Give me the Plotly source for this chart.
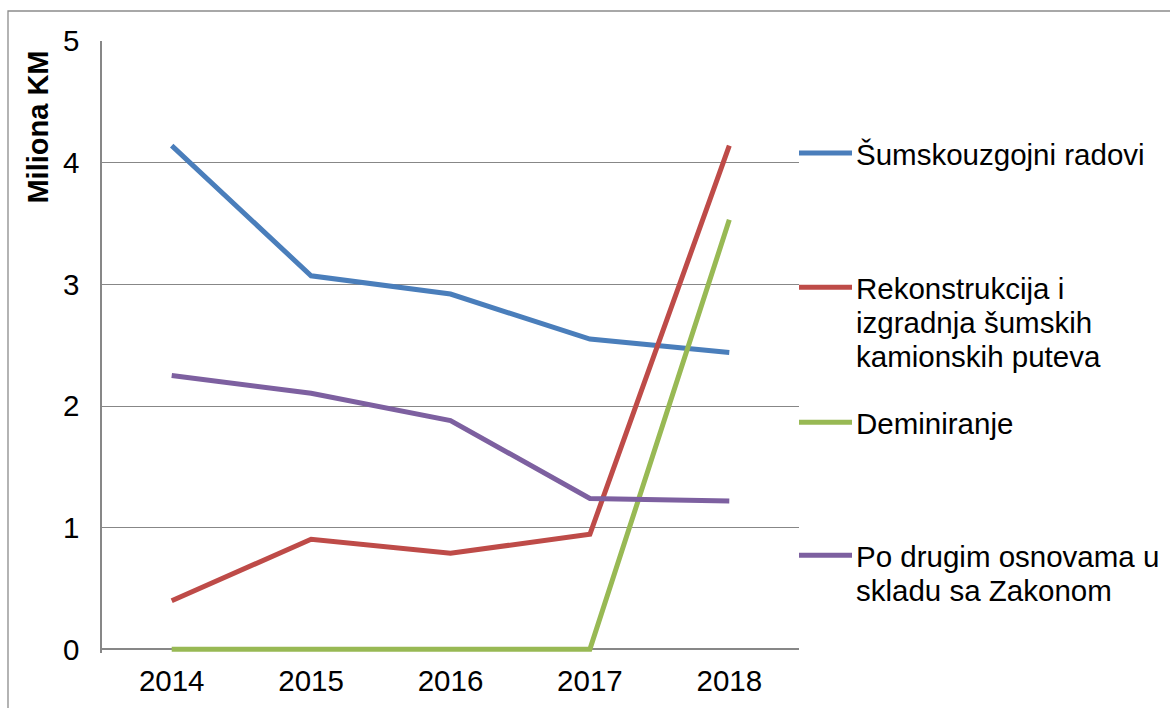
import plotly.graph_objects as go

years = ["2014", "2015", "2016", "2017", "2018"]
sumsko = [4.14, 3.07, 2.92, 2.55, 2.44]
rekon = [0.40, 0.905, 0.79, 0.946, 4.14]
demin = [0.0, 0.0, 0.0, 0.0, 3.53]
ostalo = [2.25, 2.105, 1.88, 1.24, 1.22]

names = ["Šumskouzgojni radovi",
         "Rekonstrukcija i<br>izgradnja šumskih<br>kamionskih puteva",
         "Deminiranje",
         "Po drugim osnovama u<br>skladu sa Zakonom"]
colors = ["#4A7EBB", "#BE4B48", "#98B954", "#7D60A0"]
series = [sumsko, rekon, demin, ostalo]

W, H = 1170, 708
YMIN = -0.03
L, R, T, B0 = 102, 799, 41, 649       # B0: pixel row of value 0
unit = (B0 - T) / 5.0
B = B0 - YMIN * unit                  # bottom of plot area
pw, ph = R - L, B - T

def px(x):
    return (x - L) / pw

def py(y):
    return (B - y) / ph

FONT = "Liberation Sans, Arial, sans-serif"
FS = 29.5

fig = go.Figure()
for vals, nm, c in zip(series, names, colors):
    fig.add_trace(go.Scatter(x=years, y=vals, mode="lines", name=nm.replace("<br>", " "),
                             line=dict(color=c, width=5), showlegend=False, hoverinfo="skip"))

shapes = []
annotations = []
# outer frame
shapes.append(dict(type="rect", xref="paper", yref="paper",
                   x0=px(8), y0=py(760), x1=px(1250), y1=py(11),
                   line=dict(color="#8C8C8C", width=1.3), fillcolor="rgba(0,0,0,0)", layer="below"))

# manual legend
leg_y = [153, 287, 422, 555]
line_gap = 34
for nm, c, ly in zip(names, colors, leg_y):
    shapes.append(dict(type="line", xref="paper", yref="paper",
                       x0=px(799), x1=px(852), y0=py(ly), y1=py(ly),
                       line=dict(color=c, width=5)))
    for i, part in enumerate(nm.split("<br>")):
        annotations.append(dict(text=part, xref="paper", yref="paper",
                                x=px(854), y=py(ly + 1 + i * line_gap),
                                xanchor="left", yanchor="middle", showarrow=False,
                                font=dict(family=FONT, size=FS, color="#000000")))

# y-axis title
annotations.append(dict(text="<b>Miliona KM</b>", xref="paper", yref="paper",
                        x=px(38), y=py(127.5), textangle=-90,
                        xanchor="center", yanchor="middle", showarrow=False,
                        font=dict(family=FONT, size=29, color="#000000")))

fig.update_layout(
    width=W, height=H,
    margin=dict(l=L, r=W - R, t=T, b=H - B, autoexpand=False),
    paper_bgcolor="white", plot_bgcolor="white",
    font=dict(family=FONT, size=FS, color="#000000"),
    shapes=shapes, annotations=annotations,
    showlegend=False,
)
fig.update_xaxes(type="category", range=[-0.5, 4.5], showgrid=False,
                 showline=False, ticks="", ticklabelstandoff=int(round(11 - (B - B0))),
                 automargin=False,
                 tickfont=dict(family=FONT, size=FS, color="#000000"))
fig.update_yaxes(range=[YMIN, 5], tickvals=[0, 1, 2, 3, 4, 5], showgrid=True,
                 gridcolor="#878787", gridwidth=1.3,
                 zeroline=True, zerolinecolor="#878787", zerolinewidth=1.5,
                 showline=True, linecolor="#878787", linewidth=1.5,
                 ticks="", ticklabelstandoff=15, automargin=False,
                 tickfont=dict(family=FONT, size=FS, color="#000000"))

fig.write_html("out.html", config={"displayModeBar": False},
               post_script="document.body.style.margin='0';document.body.style.overflow='hidden';")
